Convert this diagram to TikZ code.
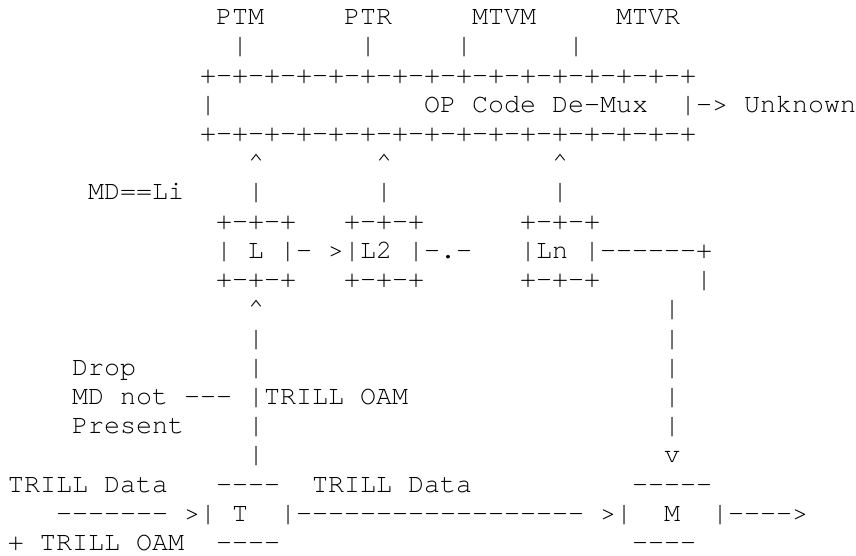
\documentclass[tikz,border=0pt]{standalone}
\usepackage{fontspec}
\IfFontExistsTF{TeX Gyre Cursor}{\setmonofont{TeX Gyre Cursor}}{\setmonofont{Liberation Mono}}
\newcommand\crt{\textasciicircum}
\tikzset{
  txt/.style={anchor=base west, inner sep=0pt, outer sep=0pt,
    font=\ttfamily\fontsize{26.667pt}{29pt}\selectfont}
}
% fragment at column #2 (16pt pitch, 8pt left margin), row #3 (29.2pt pitch)
\newcommand\frag[4]{\node[txt] (#1) at ({8+16*#2},{555-24.8-29.2*#3}) {#4};}
\begin{document}
\begin{tikzpicture}[x=1pt,y=1pt]
\useasboundingbox (0,0) rectangle (856,555);
\fill[white] (0,0) rectangle (856,555);
% row 0
\frag{ptm}{13}{0}{PTM}
\frag{ptr}{21}{0}{PTR}
\frag{mtvm}{29}{0}{MTVM}
\frag{mtvr}{38}{0}{MTVR}
% row 1
\frag{ptmv}{14}{1}{|}
\frag{ptrv}{22}{1}{|}
\frag{mtvmv}{28}{1}{|}
\frag{mtvrv}{35}{1}{|}
% row 2-4 demux box
\frag{demuxtop}{12}{2}{+-+-+-+-+-+-+-+-+-+-+-+-+-+-+-+}
\frag{demuxl}{12}{3}{|}
\frag{demux}{26}{3}{OP Code De-Mux}
\frag{unknown}{42}{3}{|-> Unknown}
\frag{demuxbot}{12}{4}{+-+-+-+-+-+-+-+-+-+-+-+-+-+-+-+}
% row 5-6
\frag{upa}{15}{5}{\crt}
\frag{upb}{23}{5}{\crt}
\frag{upc}{34}{5}{\crt}
\frag{mdli}{5}{6}{MD==Li}
\frag{va}{15}{6}{|}
\frag{vb}{23}{6}{|}
\frag{vc}{34}{6}{|}
% row 7-9 L boxes
\frag{ltop}{13}{7}{+-+-+}
\frag{ltwotop}{21}{7}{+-+-+}
\frag{lntop}{32}{7}{+-+-+}
\frag{lbox}{13}{8}{| L |}
\frag{lgo}{18}{8}{- >}
\frag{ltwo}{21}{8}{|L2 |}
\frag{ldots}{26}{8}{-.-}
\frag{ln}{32}{8}{|Ln |}
\frag{lnout}{37}{8}{------+}
\frag{lbot}{13}{9}{+-+-+}
\frag{ltwobot}{21}{9}{+-+-+}
\frag{lnbot}{32}{9}{+-+-+}
\frag{lnv}{43}{9}{|}
% rows 10-15
\frag{tup}{15}{10}{\crt}
\frag{mva}{41}{10}{|}
\frag{tva}{15}{11}{|}
\frag{mvb}{41}{11}{|}
\frag{drop}{4}{12}{Drop}
\frag{tvb}{15}{12}{|}
\frag{mvc}{41}{12}{|}
\frag{mdnot}{4}{13}{MD not ---}
\frag{oam}{15}{13}{|TRILL OAM}
\frag{mvd}{41}{13}{|}
\frag{present}{4}{14}{Present}
\frag{tvc}{15}{14}{|}
\frag{mve}{41}{14}{|}
\frag{tvd}{15}{15}{|}
\frag{mdown}{41}{15}{v}
% rows 16-18
\frag{indata}{0}{16}{TRILL Data}
\frag{ttop}{13}{16}{----}
\frag{outdata}{19}{16}{TRILL Data}
\frag{mtop}{39}{16}{-----}
\frag{inline}{3}{17}{-------}
\frag{tbox}{11}{17}{>| T}
\frag{tout}{17}{17}{|------------------}
\frag{min}{37}{17}{>|}
\frag{mbox}{41}{17}{M}
\frag{mout}{44}{17}{|---->}
\frag{inoam}{0}{18}{+ TRILL OAM}
\frag{tbot}{13}{18}{----}
\frag{mbot}{39}{18}{----}
\end{tikzpicture}
\end{document}
